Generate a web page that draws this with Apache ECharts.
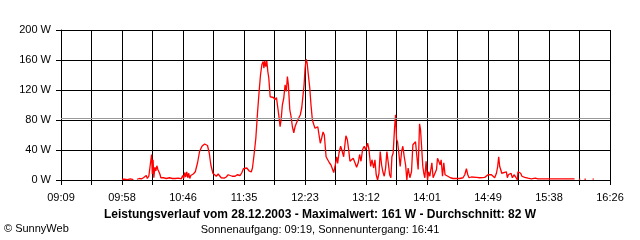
<!DOCTYPE html>
<html>
<head>
<meta charset="utf-8">
<script src="https://cdn.jsdelivr.net/npm/echarts@6/dist/echarts.min.js"></script>
<style>
html,body{margin:0;padding:0;background:#fff;}
#c{width:640px;height:240px;}
</style>
</head>
<body>
<div id="c"></div>
<script>
// minutes after 09:09
const times = [48.6,50.5,52.8,55.2,57.6,58.5,60.5,62.4,64.0,65.6,67.1,67.9,68.7,69.9,71.1,72.1,72.7,73.3,73.9,74.7,75.5,76.3,77.1,77.9,78.7,79.5,81.4,83.8,86.2,88.6,91.0,93.4,95.7,96.9,97.7,98.5,99.3,100.1,100.9,101.7,102.5,103.3,104.2,105.3,106.9,108.7,110.3,112.2,114.3,115.6,116.6,118.0,119.3,120.9,122.0,123.6,125.1,127.5,129.9,131.5,133.1,134.7,136.3,138.6,140.2,142.6,144.0,145.2,147.9,149.8,151.4,152.4,153.7,155.1,156.4,157.7,158.8,159.9,160.9,161.5,162.2,163.0,163.8,164.6,165.4,166.5,167.8,169.1,170.4,171.5,172.6,173.6,174.4,175.2,176.2,177.3,178.4,179.4,180.2,181.0,182.1,183.1,184.2,185.3,186.3,187.4,188.5,189.5,190.5,191.6,192.7,193.5,194.3,195.1,195.9,196.9,198.0,199.0,200.1,201.2,202.2,203.2,204.4,205.4,206.4,207.5,208.6,209.6,210.2,211.0,212.3,213.6,214.9,216.3,217.1,218.1,219.5,220.2,221.3,222.6,223.9,225.0,226.1,226.8,227.9,229.0,230.0,231.4,232.6,234.0,235.3,236.6,237.7,238.8,240.1,241.4,242.5,244.1,245.1,246.5,247.5,248.9,249.9,250.9,252.0,253.1,254.1,255.2,256.2,257.3,258.4,259.4,260.5,261.6,262.6,263.4,264.4,265.5,266.3,267.1,267.9,268.9,270.0,271.1,272.1,273.2,274.3,275.3,276.3,277.7,279.0,280.1,281.1,282.2,283.3,284.3,285.4,286.2,287.0,288.0,288.8,289.6,290.6,291.8,292.6,293.6,295.2,296.2,297.6,298.9,299.7,300.7,301.8,302.6,303.7,304.7,305.7,306.9,307.9,308.9,310.0,312.1,314.8,317.4,320.0,321.4,322.7,323.8,324.8,326.7,328.0,330.7,333.3,337.3,338.6,339.9,341.3,342.6,343.9,345.2,346.6,347.6,348.4,349.2,350.0,350.8,351.8,354.5,355.3,356.1,357.2,358.2,359.3,360.6,361.9,363.3,363.7,364.9,365.9,366.9,369.1,371.7,374.4,377.6,379.6,385.0,392.9,400.8,408.8,409.5,412.3,413.3,413.8,416.7,417.7,418.2,423.1,424.1,424.6,426.3,430.3];
const watts = [1,1,0.5,1.5,0.5,null,1,2,1.5,3,4,6,2,5,3,34,8,27,3,17,12,19,14,16,8,3,3,2,3,2,2,2.5,1.5,6,2,10,4,11,3,9,2,6,5,8,11,23,38,45,48,49,46,36,20,9,7,5,8,3,2.5,4,7,6,5,5,7,6,10,15,16,12,10.7,16,34,56,89,118,140,154,158,149,159,151,159,145,136,111,109,110,107,110,96,83,71,80,100,109,127,118,138,127,94,85,71,63,71,76,80,78,87,96,94,127,149,161,156,140,123,100,80,74,69,67,71,60,49,56,64,60,58,31,27,23,20,18,10,18,31,22,36,45,38,31,49,59,54,40,25,27,29,23,17,23,34,25,41,45,40,49,41,18,27,16,27,7,0,9,38,20,11,5,16,38,23,7,3,31,36,69,87,54,51,36,18,38,45,31,20,0,16,3,11,47,49,51,31,14,75,67,45,18,9,3,25,0,11,5,23,3,3,14,29,25,20,27,5,23,7,9,5,7,3,2,2,2,3,7,15,7,3,4,2.5,3.5,3,3.5,5.5,7,5,7,7,3,9,18,31,18,14,9,10.7,10.7,3,7,5,9,3,7,4,0,11,11,9,5,3.5,2.5,1.5,2.5,1.5,1.5,1.5,1.5,1.5,null,1,1,null,1,1,null,1,1.5,1.5];
const tickLabels = ['09:09','09:58','10:46','11:35','12:23','13:12','14:01','14:49','15:38','16:26'];
const yLabels = ['0 W','40 W','80 W','120 W','160 W','200 W'];
const average = 82;
const titleText = 'Leistungsverlauf vom 28.12.2003 - Maximalwert: 161 W - Durchschnitt: 82 W';
const subText = 'Sonnenaufgang: 09:19, Sonnenuntergang: 16:41';
const copyText = '\u00A9 SunnyWeb';

const span = 437;
const step = span / 18;
const font = 'Liberation Sans, Arial, sans-serif';
const chart = echarts.init(document.getElementById('c'), null, {renderer: 'canvas'});
const data = times.map((t, i) => [t, watts[i]]);
chart.setOption({
  animation: false,
  backgroundColor: '#fff',
  grid: {left: 61, top: 30, width: 549, height: 150},
  xAxis: {
    type: 'value', min: 0, max: span, interval: step,
    axisLine: {show: true, lineStyle: {color: '#000', width: 1}},
    axisTick: {show: true, length: 5, lineStyle: {color: '#000'}},
    splitLine: {show: true, lineStyle: {color: '#000', width: 1}},
    axisLabel: {
      color: '#000', fontFamily: font, fontSize: 11, margin: 12,
      showMinLabel: true, showMaxLabel: true,
      formatter: function (v) {
        const idx = Math.round(v / step);
        if (idx % 2) return '';
        return tickLabels[idx / 2] || '';
      }
    }
  },
  yAxis: {
    type: 'value', min: 0, max: 200, interval: 40,
    axisLine: {show: true, lineStyle: {color: '#000', width: 1}},
    axisTick: {show: true, length: 5, lineStyle: {color: '#000'}},
    splitLine: {show: true, lineStyle: {color: '#000', width: 1}},
    axisLabel: {
      color: '#000', fontFamily: font, fontSize: 11, margin: 10,
      formatter: function (v) { return yLabels[Math.round(v / 40)]; }
    }
  },
  series: [{
    type: 'line', data: data, showSymbol: false, connectNulls: false,
    lineStyle: {color: '#ff0000', width: 1.3}, itemStyle: {color: '#ff0000'},
    markLine: {
      silent: true, symbol: 'none', label: {show: false},
      lineStyle: {color: '#999', width: 1, type: 'solid'},
      data: [{yAxis: average}]
    }
  }],
  graphic: [
    {type: 'text', left: 'center', top: 209, style: {text: titleText, font: 'bold 12px ' + font, fill: '#000'}},
    {type: 'text', left: 'center', top: 224, style: {text: subText, font: '11px ' + font, fill: '#000'}},
    {type: 'text', left: 4, top: 223, style: {text: copyText, font: '11px ' + font, fill: '#000'}}
  ]
});
</script>
</body>
</html>
